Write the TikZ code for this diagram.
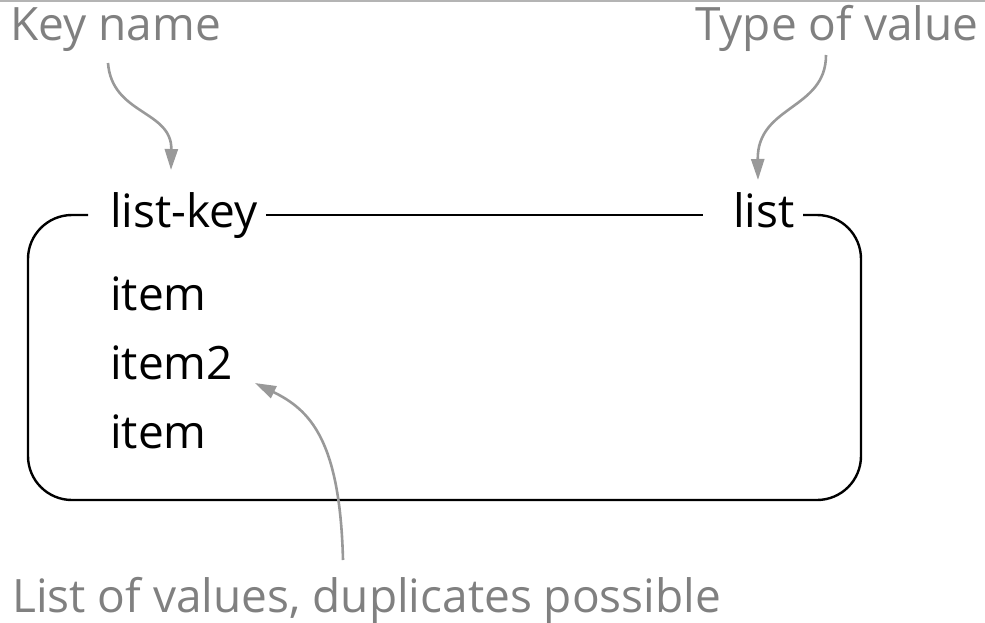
\documentclass[tikz,border=0pt]{standalone}
\usepackage{fontspec}
\setmainfont{Open Sans}
\usetikzlibrary{arrows.meta}
\definecolor{labelgray}{HTML}{808080}
\definecolor{arrowgray}{HTML}{999999}
\definecolor{rulegray}{HTML}{B4B4B4}
\tikzset{
  graylabel/.style={inner sep=0pt, anchor=base west, text=labelgray, font=\fontsize{46}{55}\selectfont},
  entry/.style={inner sep=0pt, anchor=base west, text=black, font=\fontsize{46}{55}\selectfont},
  boxline/.style={draw=black, line width=2.4pt},
  pointer/.style={draw=arrowgray, line width=2.6pt, -{Triangle[length=21pt,width=13pt]}},
}
\begin{document}
\begin{tikzpicture}[x=1pt, y=-1pt]
\useasboundingbox (0,0) rectangle (985,622);
\draw[rulegray, line width=1.5pt] (0,0.8) -- (985,0.8);

\node[graylabel] (kn) at (10,40) {Key name};
\node[graylabel] (tv) at (695,40) {Type of value};
\node[graylabel] (lv) at (12,612) {List of values, duplicates possible};

\node[entry] (lk) at (110,227) {list-key};
\node[entry] (lt) at (733,227) {list};
\node[entry] (i1) at (110,310) {item};
\node[entry] (i2) at (110,379) {item2};
\node[entry] (i3) at (110,448) {item};

\coordinate (tl) at (88,215);
\coordinate (tr) at (803,215);
\draw[boxline, rounded corners=44pt] (tl) -- (28,215) -- (28,500) -- (861,500) -- (861,215) -- (tr);
\draw[boxline] (lk.east |- tl) ++(8,0) -- ([xshift=-30pt]lt.west |- tl);

\coordinate (s1) at (108,63);
\coordinate (e1) at (171,170);
\coordinate (s2) at (826,55);
\coordinate (e2) at (758,180);
\coordinate (s3) at (343,560);
\coordinate (e3) at (255,383);
\draw[pointer] (s1) .. controls (112,115) and (172,110) .. (e1);
\draw[pointer] (s2) .. controls (826,110) and (757,105) .. (e2);
\draw[pointer] (s3) .. controls (340,440) and (310,410) .. (e3);
\end{tikzpicture}
\end{document}
